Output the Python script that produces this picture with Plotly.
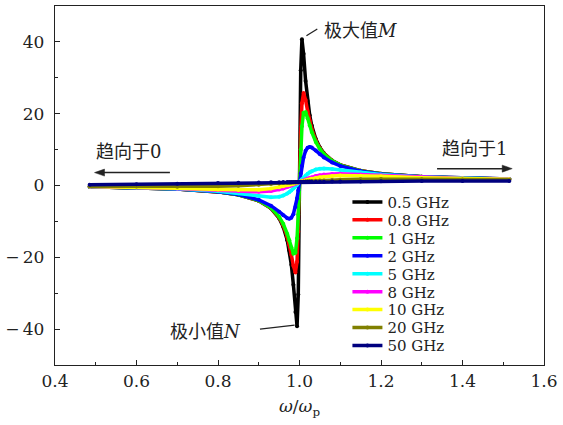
import plotly.graph_objects as go

# normalized frequency omega/omega_p
omega = [0.485, 0.6, 0.7, 0.8, 0.85, 0.9, 0.93, 0.95, 0.96, 0.97, 0.975, 0.98, 0.985,
         0.99, 0.994, 0.997, 1.0, 1.003, 1.006, 1.01, 1.015, 1.02, 1.025, 1.03, 1.04,
         1.05, 1.06, 1.08, 1.1, 1.15, 1.2, 1.3, 1.4, 1.515]

names = ["0.5 GHz", "0.8 GHz", "1 GHz", "2 GHz", "5 GHz", "8 GHz", "10 GHz", "20 GHz", "50 GHz"]
colors = ["#000000", "#FF0000", "#00FF00", "#0000FF", "#00FFFF", "#FF00FF", "#FFFF00",
          "#808000", "#00007F"]

y_05 = [-0.316, -0.562, -0.961, -1.777, -2.603, -4.245, -6.347, -9.106, -11.462, -15.237,
        -18.090, -22.047, -27.681, -35.238, -39.21, -30.34, 1.0, 32.09, 40.72, 36.68, 29.13,
        23.51, 19.564, 16.718, 12.952, 10.599, 8.999, 6.970, 5.742, 4.097, 3.271, 2.449,
        2.042, 1.781]
y_08 = [-0.316, -0.562, -0.960, -1.776, -2.590, -4.216, -6.264, -8.881, -11.033, -14.275,
        -16.520, -19.284, -22.359, -24.252, -21.224, -12.82, 1.0, 14.70, 22.90, 25.75, 23.80,
        20.72, 17.970, 15.734, 12.507, 10.363, 8.859, 6.910, 5.710, 4.085, 3.266, 2.448,
        2.042, 1.782]
y_1 = [-0.316, -0.562, -0.959, -1.769, -2.582, -4.190, -6.189, -8.682, -10.662, -13.482,
       -15.285, -17.262, -18.944, -18.731, -14.728, -8.117, 1.0, 10.038, 16.483, 20.298,
       20.406, 18.700, 16.725, 14.930, 12.125, 10.156, 8.735, 6.855, 5.682, 4.076, 3.262,
       2.446, 2.041, 1.781]
y_2 = [-0.315, -0.559, -0.952, -1.744, -2.521, -3.984, -5.618, -7.289, -8.277, -9.111,
       -9.256, -8.977, -7.990, -5.992, -3.578, -1.377, 1.0, 3.355, 5.500, 7.804, 9.663,
       10.544, 10.755, 10.574, 9.716, 8.729, 7.834, 6.437, 5.456, 4.005, 3.231, 2.437,
       2.036, 1.778]
y_5 = [-0.308, -0.541, -0.905, -1.579, -2.143, -2.897, -3.253, -3.130, -2.816, -2.248,
       -1.855, -1.389, -0.856, -0.267, 0.232, 0.615, 1.0, 1.381, 1.754, 2.230, 2.777, 3.258,
       3.667, 4.002, 4.464, 4.696, 4.764, 4.624, 4.333, 3.587, 3.036, 2.373, 2.008, 1.765]
y_8 = [-0.294, -0.509, -0.823, -1.320, -1.620, -1.774, -1.556, -1.138, -0.823, -0.437,
       -0.220, 0.010, 0.250, 0.498, 0.698, 0.849, 1.0, 1.149, 1.296, 1.488, 1.718, 1.934,
       2.135, 2.320, 2.635, 2.877, 3.052, 3.238, 3.270, 3.055, 2.752, 2.269, 1.960, 1.740]
y_10 = [-0.283, -0.481, -0.754, -1.123, -1.272, -1.191, -0.868, -0.479, -0.230, 0.051,
        0.202, 0.357, 0.516, 0.677, 0.807, 0.904, 1.0, 1.096, 1.190, 1.313, 1.463, 1.606,
        1.742, 1.870, 2.099, 2.291, 2.446, 2.654, 2.754, 2.728, 2.551, 2.186, 1.919, 1.719]
y_20 = [-0.192, -0.281, -0.333, -0.243, -0.077, 0.204, 0.424, 0.585, 0.669, 0.752, 0.794,
        0.836, 0.878, 0.919, 0.952, 0.976, 1.0, 1.024, 1.048, 1.079, 1.117, 1.154, 1.191,
        1.226, 1.295, 1.358, 1.417, 1.521, 1.606, 1.742, 1.795, 1.768, 1.680, 1.580]
y_50 = [0.202, 0.342, 0.503, 0.681, 0.770, 0.854, 0.901, 0.931, 0.946, 0.960, 0.967, 0.974,
        0.980, 0.987, 0.992, 0.996, 1.0, 1.004, 1.008, 1.013, 1.019, 1.025, 1.031, 1.037,
        1.048, 1.059, 1.070, 1.090, 1.109, 1.149, 1.180, 1.221, 1.241, 1.246]

series = [y_05, y_08, y_1, y_2, y_5, y_8, y_10, y_20, y_50]

x_ticks = [0.4, 0.6, 0.8, 1.0, 1.2, 1.4, 1.6]
x_ticktext = ["0.4", "0.6", "0.8", "1.0", "1.2", "1.4", "1.6"]
y_ticks = [-40, -20, 0, 20, 40]
y_ticktext = ["\u2212\u200940", "\u2212\u200920", "0", "20", "40"]

SERIF = "DejaVu Serif"
CJK = "DejaVu Serif, Noto Sans CJK SC"
TXT = "#222222"

fig = go.Figure()
for i, (name, vals, col) in enumerate(zip(names, series, colors)):
    fig.add_trace(go.Scatter(
        x=omega, y=vals, mode="lines+markers", name=name,
        line=dict(color=col, width=3.5),
        marker=dict(color=col, size=4),
        legend="legend" if i == 0 else f"legend{i + 1}",
    ))

# one legend box per entry so the vertical spacing matches the original
plot_top, plot_h = 5, 360
for i in range(len(names)):
    key = "legend" if i == 0 else f"legend{i + 1}"
    y_px = 201.7 + 18.0 * i
    fig.update_layout({key: dict(
        x=0.598, y=(plot_top + plot_h - y_px) / plot_h,
        xanchor="left", yanchor="middle",
        bgcolor="rgba(0,0,0,0)", borderwidth=0,
        font=dict(family=SERIF, size=15, color=TXT),
        itemwidth=30,
    )})

annotations = [
    dict(x=1.1506, y=43.3, text="极大值<i>M</i>"),
    dict(x=0.769, y=-40.8, text="极小值<i>N</i>"),
    dict(x=0.580, y=9.4, text="趋向于0"),
    dict(x=1.4296, y=10.3, text="趋向于1"),
]
for a in annotations:
    a.update(showarrow=False, xref="x", yref="y",
             font=dict(family=CJK, size=18, color=TXT))

line_style = dict(color=TXT, width=1.3)
shapes = [
    # pointer lines to the extrema labels
    dict(type="line", xref="x", yref="y", x0=1.017, y0=41.7, x1=1.0437, y1=43.6,
         line=line_style),
    dict(type="line", xref="x", yref="y", x0=0.903, y0=-40.0, x1=0.988, y1=-38.9,
         line=line_style),
    # "tends to 0" arrow (pointing left)
    dict(type="line", xref="x", yref="y", x0=0.682, y0=3.6, x1=0.515, y1=3.6,
         line=dict(color=TXT, width=1.5)),
    dict(type="path", xref="x", yref="y", xsizemode="pixel", ysizemode="pixel",
         xanchor=0.497, yanchor=3.6, path="M0,0 L10,3.5 L10,-3.5 Z",
         fillcolor=TXT, line=dict(color=TXT, width=0.5)),
    # "tends to 1" arrow (pointing right)
    dict(type="line", xref="x", yref="y", x0=1.3376, y0=4.7, x1=1.505, y1=4.7,
         line=dict(color=TXT, width=1.5)),
    dict(type="path", xref="x", yref="y", xsizemode="pixel", ysizemode="pixel",
         xanchor=1.522, yanchor=4.7, path="M0,0 L-10,3.5 L-10,-3.5 Z",
         fillcolor=TXT, line=dict(color=TXT, width=0.5)),
]

fig.update_layout(
    width=563, height=425,
    margin=dict(l=54, r=15, t=5, b=60),
    paper_bgcolor="white", plot_bgcolor="white",
    annotations=annotations, shapes=shapes,
    showlegend=True,
    font=dict(family=SERIF, size=17, color=TXT),
)
fig.update_xaxes(
    range=[0.4, 1.6], tickvals=x_ticks, ticktext=x_ticktext,
    ticks="inside", ticklen=5, tickwidth=1, tickcolor="#222",
    minor=dict(dtick=0.1, tick0=0.4, ticks="inside", ticklen=3, tickcolor="#222"),
    showline=True, linecolor="#222", linewidth=1.3, mirror=True,
    showgrid=False, zeroline=False,
    tickfont=dict(family=SERIF, size=17, color=TXT),
    title=dict(text="<i>ω</i>/<i>ω</i><sub>p</sub>", font=dict(family=SERIF, size=17, color=TXT),
               standoff=10),
)
fig.update_yaxes(
    range=[-50, 50], tickvals=y_ticks, ticktext=y_ticktext,
    ticks="inside", ticklen=5, tickwidth=1, tickcolor="#222",
    minor=dict(dtick=10, tick0=0, ticks="inside", ticklen=3, tickcolor="#222"),
    showline=True, linecolor="#222", linewidth=1.3, mirror=True,
    showgrid=False, zeroline=False,
    tickfont=dict(family=SERIF, size=17, color=TXT),
    ticklabelstandoff=6,
)

fig.write_html("out.html")
